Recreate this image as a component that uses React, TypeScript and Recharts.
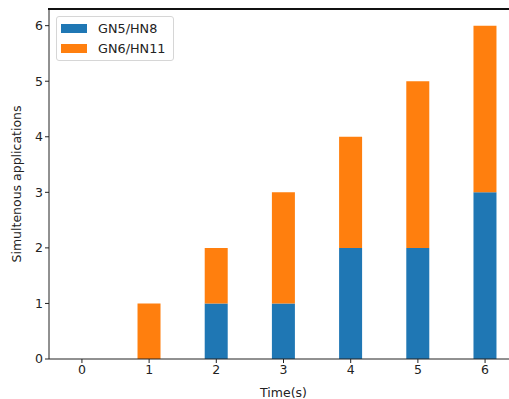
import { BarChart, Bar, XAxis, YAxis } from 'recharts';

const times = [0, 1, 2, 3, 4, 5, 6];
const gn5hn8 = [0, 0, 1, 1, 2, 2, 3];
const gn6hn11 = [0, 1, 1, 2, 2, 3, 3];

const data = times.map((t, i) => ({ t, a: gn5hn8[i], b: gn6hn11[i] }));

const FONT = '"DejaVu Sans", sans-serif';

function LegendBox() {
  const items = [
    { label: 'GN5/HN8', color: '#1f77b4' },
    { label: 'GN6/HN11', color: '#ff7f0e' },
  ];
  return (
    <div
      style={{
        position: 'absolute',
        left: 56,
        top: 16,
        width: 106,
        border: '1px solid #d6d6d6',
        borderRadius: 3,
        background: 'rgba(255,255,255,0.8)',
        padding: '2px 6px 2px 4px',
        fontFamily: FONT,
        fontSize: 12.8,
        color: '#222',
      }}
    >
      {items.map((it) => (
        <div key={it.label} style={{ display: 'flex', alignItems: 'center', height: 19.5 }}>
          <span style={{ width: 26, height: 9, background: it.color, marginRight: 11 }} />
          {it.label}
        </div>
      ))}
    </div>
  );
}

export default function App() {
  return (
    <div style={{ position: 'absolute', left: 0, top: 0, width: 509, height: 399, overflow: 'hidden', background: '#fff' }}>
      <BarChart
        width={522}
        height={399}
        data={data}
        margin={{ top: 9, right: 4, bottom: 0, left: 0 }}
      >
        <XAxis
          dataKey="t"
          type="number"
          domain={[-0.49, 6.49]}
          ticks={times}
          allowDataOverflow
          stroke="#222"
          tickLine={{ stroke: '#222' }}
          tickSize={4}
          tick={{ fill: '#222', fontSize: 12.5, fontFamily: FONT }}
          height={40}
          label={{ value: 'Time(s)', position: 'insideBottom', offset: 2, fill: '#222', fontSize: 12.5, fontFamily: FONT }}
        />
        <YAxis
          type="number"
          domain={[0, 6.3]}
          ticks={[0, 1, 2, 3, 4, 5, 6]}
          allowDataOverflow
          stroke="#222"
          tickLine={{ stroke: '#222' }}
          tickSize={4}
          tick={{ fill: '#222', fontSize: 12.5, fontFamily: FONT }}
          width={49}
          label={{
            value: 'Simultenous applications',
            angle: -90,
            position: 'insideLeft',
            offset: 17,
            style: { textAnchor: 'middle' },
            fill: '#222',
            fontSize: 12.5,
            fontFamily: FONT,
          }}
        />
        <Bar dataKey="a" name="GN5/HN8" stackId="s" fill="#1f77b4" barSize={23} isAnimationActive={false} />
        <Bar dataKey="b" name="GN6/HN11" stackId="s" fill="#ff7f0e" barSize={23} isAnimationActive={false} />
      </BarChart>
      {/* top spine */}
      <div style={{ position: 'absolute', left: 48, top: 8, width: 461, height: 2, background: '#111', zIndex: 5 }} />
      <LegendBox />
    </div>
  );
}
